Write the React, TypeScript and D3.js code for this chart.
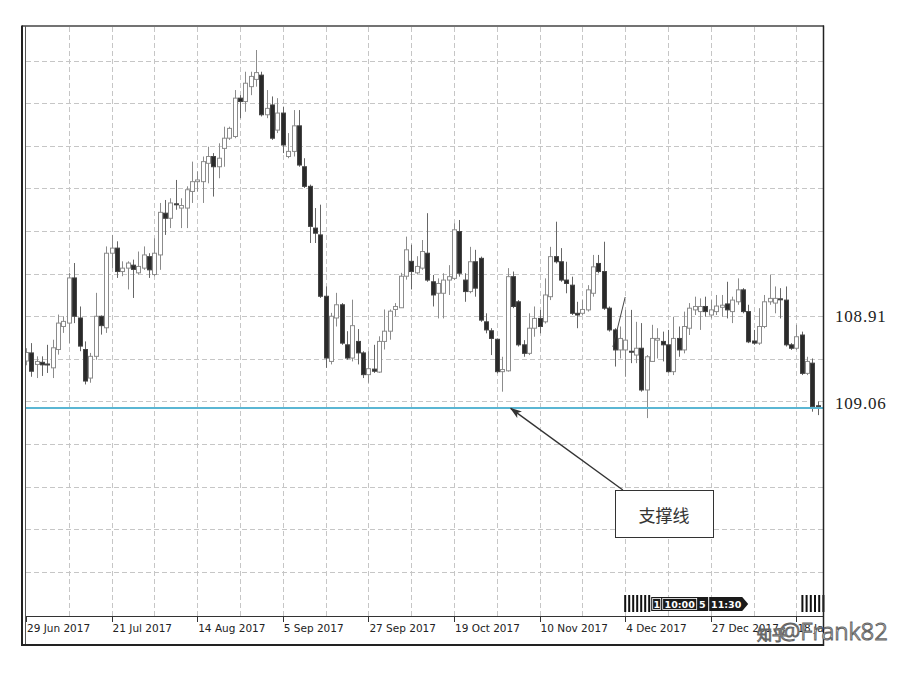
import React from "react";
import * as d3 from "d3";

const W = 905;
const H = 673;

// Candle values (chart level units; each gridline = 10 units)
const openVals = [
  59.5, 61.4, 58.7, 59.2, 58.8, 57.9, 62.2, 67.6, 68.4, 79.0, 69.6, 62.2, 55.5, 60.6, 70.0, 67.3,
  84.8, 86.0, 80.5, 81.3, 82.0, 80.2, 81.3, 84.0, 79.8, 84.4, 94.2, 93.0, 96.4, 95.4, 95.4, 99.3,
  101.6, 101.6, 105.9, 107.5, 105.1, 109.4, 111.8, 112.2, 121.2, 120.4, 123.9, 125.6, 126.6, 117.3, 119.6, 113.7,
  117.7, 107.5, 108.7, 114.7, 105.1, 100.5, 90.7, 89.1, 74.7, 59.4, 69.6, 72.7, 63.3, 60.2, 64.1, 61.4,
  56.3, 57.6, 56.9, 64.1, 66.5, 71.6, 72.0, 79.4, 82.9, 80.2, 81.3, 84.8, 78.1, 75.4, 75.4, 78.5,
  78.9, 89.9, 78.5, 75.8, 82.8, 83.6, 68.7, 66.6, 64.6, 57.0, 57.2, 79.3, 73.4, 63.3, 61.3, 67.2,
  69.5, 68.7, 74.6, 84.0, 82.8, 78.5, 77.3, 70.7, 70.7, 71.5, 75.4, 82.4, 80.5, 71.9, 66.8, 62.1,
  62.1, 61.8, 60.9, 62.5, 52.7, 59.4, 64.4, 64.1, 63.3, 57.0, 64.8, 62.1, 67.2, 71.5, 71.1, 72.3,
  70.3, 71.1, 72.1, 72.9, 71.1, 73.4, 76.2, 71.1, 64.2, 63.7, 67.6, 73.4, 73.1, 74.1, 73.8, 63.3,
  62.5, 65.6, 56.6, 59.0, 49.0,
];
const highVals = [
  62.5, 63.7, 60.6, 60.6, 63.3, 64.5, 70.4, 70.0, 80.2, 82.5, 72.3, 64.1, 61.4, 75.5, 70.2, 86.4,
  89.1, 87.6, 82.9, 82.9, 83.3, 85.2, 86.4, 84.8, 88.3, 96.6, 97.3, 97.7, 102.0, 97.7, 100.5, 106.3,
  104.0, 107.5, 109.8, 108.3, 110.6, 114.5, 114.5, 123.1, 121.9, 127.4, 127.4, 132.5, 127.4, 123.1, 121.6, 121.2,
  119.2, 113.0, 118.4, 118.4, 107.1, 100.9, 95.4, 96.2, 77.0, 70.8, 75.5, 73.1, 66.5, 73.9, 67.0, 61.8,
  61.8, 63.3, 65.3, 71.6, 71.6, 73.1, 80.2, 88.7, 86.8, 84.1, 87.9, 94.2, 79.7, 78.9, 80.1, 82.0,
  91.8, 92.6, 80.1, 86.3, 85.6, 84.0, 70.7, 67.2, 64.8, 60.5, 81.3, 80.5, 73.8, 64.4, 70.7, 72.3,
  71.5, 78.9, 86.3, 92.2, 86.0, 82.8, 79.3, 73.4, 73.8, 77.3, 84.4, 84.4, 87.5, 72.3, 67.2, 67.6,
  71.5, 71.5, 68.7, 68.4, 60.9, 68.0, 67.2, 66.4, 66.8, 69.9, 67.6, 71.1, 73.1, 74.6, 74.2, 74.6,
  73.8, 75.0, 75.0, 78.1, 74.6, 78.9, 76.6, 72.7, 66.8, 71.9, 75.0, 79.7, 77.0, 76.6, 77.0, 63.7,
  68.0, 66.4, 60.5, 60.1, 50.0,
];
const lowVals = [
  58.5, 55.8, 55.5, 56.0, 56.7, 55.5, 61.0, 66.1, 63.7, 68.4, 61.8, 54.0, 54.4, 59.8, 65.7, 66.1,
  81.3, 79.0, 79.4, 76.3, 74.3, 79.8, 80.9, 79.0, 79.4, 80.9, 89.1, 90.7, 95.0, 90.7, 90.7, 96.6,
  99.3, 96.6, 101.2, 98.1, 102.4, 105.1, 111.4, 111.8, 116.5, 118.0, 121.9, 123.9, 116.9, 116.5, 111.4, 113.0,
  108.3, 107.1, 107.5, 105.1, 100.1, 87.2, 87.2, 74.3, 57.9, 58.7, 67.6, 63.3, 59.8, 59.4, 58.7, 55.5,
  54.4, 56.7, 56.7, 62.2, 64.5, 70.0, 72.0, 78.6, 76.3, 79.8, 80.9, 78.1, 72.3, 69.5, 69.5, 75.0,
  78.5, 79.3, 73.4, 75.4, 74.6, 68.7, 66.0, 60.9, 56.6, 52.3, 57.0, 71.9, 62.9, 60.5, 60.9, 65.2,
  66.0, 68.3, 73.8, 82.4, 78.1, 75.4, 70.3, 67.2, 70.3, 71.1, 74.6, 80.1, 71.5, 66.4, 58.2, 60.1,
  55.8, 59.0, 59.0, 52.3, 46.1, 59.4, 60.1, 59.4, 56.8, 56.2, 60.5, 61.3, 65.6, 70.3, 66.8, 69.9,
  69.5, 70.3, 69.9, 69.5, 68.4, 72.7, 70.7, 63.7, 63.3, 63.3, 67.2, 72.7, 70.7, 69.5, 62.9, 62.1,
  62.1, 56.2, 56.2, 47.6, 46.8,
];
const closeVals = [
  61.5, 57.1, 59.4, 58.6, 58.6, 62.6, 68.4, 68.8, 79.0, 70.0, 63.0, 54.8, 60.6, 70.0, 67.8, 84.8,
  86.0, 80.5, 81.3, 82.5, 81.0, 81.7, 84.4, 80.9, 84.8, 94.4, 93.0, 96.6, 96.3, 96.0, 99.7, 101.6,
  102.0, 106.3, 107.5, 105.1, 107.1, 111.8, 114.1, 121.2, 120.4, 124.7, 126.3, 127.2, 117.3, 118.8, 111.8, 117.7,
  110.2, 108.7, 114.7, 105.5, 100.5, 91.1, 89.5, 74.7, 60.2, 70.0, 72.7, 63.7, 60.2, 67.8, 61.4, 56.3,
  57.7, 57.1, 64.1, 66.5, 71.2, 72.3, 79.4, 85.6, 80.5, 81.7, 85.2, 78.5, 75.0, 77.7, 78.5, 79.3,
  90.3, 80.1, 75.8, 82.8, 76.6, 69.1, 66.8, 64.8, 57.0, 57.5, 79.3, 72.3, 63.3, 61.3, 67.2, 69.5,
  67.6, 75.0, 84.0, 82.8, 78.5, 77.7, 70.7, 70.3, 71.6, 76.2, 81.6, 80.5, 71.9, 66.8, 62.1, 64.8,
  64.4, 61.6, 62.5, 52.7, 60.5, 64.8, 64.8, 63.3, 57.0, 64.8, 62.1, 67.6, 71.9, 72.3, 72.3, 71.1,
  71.5, 72.4, 72.6, 71.5, 73.8, 76.2, 71.1, 64.0, 63.7, 67.6, 73.4, 74.2, 74.2, 74.0, 63.3, 62.5,
  65.2, 56.6, 59.4, 48.8, 48.8,
];

const dateLabels = [
  "29 Jun 2017", "21 Jul 2017", "14 Aug 2017", "5 Sep 2017", "27 Sep 2017",
  "19 Oct 2017", "10 Nov 2017", "4 Dec 2017", "27 Dec 2017", "18 Jan 2018",
];
const dateLabelBars = [0, 16, 32, 48, 64, 80, 96, 112, 128, 144];
const verticalGridBars = [8, 16, 24, 32, 40, 48, 56, 64, 72, 80, 88, 96, 104, 112, 120, 128, 136, 144];
const horizontalGridLevels = [10, 20, 30, 40, 50, 60, 70, 80, 90, 100, 110, 120, 130];
const priceLabels = ["108.91", "109.06"];
const priceLabelLevels = [70.0, 49.6];
const supportLevel = 48.5;
const supportNote = "支撑线";
const trendBars = [109.7, 112.0];
const trendLevels = [62.8, 74.5];
const markerTexts = ["1", "10:00", "5", "11:30"];
const watermark = "@Frank82";

export default function App() {
  const left = 26, right = 823, top = 27, bottom = 616;
  const x = d3.scaleLinear().domain([0, 149]).range([left, 823.15]);
  const y = d3.scaleLinear().domain([-0.35, 137.9]).range([bottom, top]);
  const candles = d3.range(openVals.length).map((i) => ({
    i, o: openVals[i], h: highVals[i], l: lowVals[i], c: closeVals[i],
  }));
  const bodyW = 4;
  const gridColor = "#c6c6c6";
  const crisp = (v: number) => Math.round(v) + 0.5;
  const arrowStart = { x: x(111) + 3, y: 490 };
  const arrowEnd = { x: x(90.6), y: y(supportLevel) + 0.5 };
  const mkX = x(112) - 1;
  const rightMkX = x(144) + 5;

  return (
    <svg width={W} height={H} style={{ position: "absolute", left: 0, top: 0, background: "#fff" }}>
      <defs>
        <clipPath id="plot">
          <rect x={left} y={top} width={right - left} height={bottom - top} />
        </clipPath>
        <clipPath id="axisclip">
          <rect x={left} y={bottom} width={right - left} height={30} />
        </clipPath>
        <marker id="ah" viewBox="0 0 12 8" refX="11" refY="4" markerWidth="12" markerHeight="8" markerUnits="userSpaceOnUse" orient="auto">
          <path d="M0,0 L12,4 L0,8 L3,4 Z" fill="#333" />
        </marker>
      </defs>
      <rect x={0} y={0} width={W} height={H} fill="#fff" />

      {/* grid */}
      <g stroke={gridColor} strokeWidth={1} strokeDasharray="5,3">
        {horizontalGridLevels.map((v) => (
          <line key={"h" + v} x1={left} x2={right} y1={crisp(y(v))} y2={crisp(y(v))} />
        ))}
        {verticalGridBars.map((b) => (
          <line key={"v" + b} x1={crisp(x(b))} x2={crisp(x(b))} y1={top} y2={bottom} />
        ))}
      </g>

      {/* candles */}
      <g clipPath="url(#plot)">
        {candles.map((d) => {
          const cx = Math.round(x(d.i));
          const up = d.c >= d.o;
          const yTop = y(Math.max(d.o, d.c));
          const yBot = y(Math.min(d.o, d.c));
          const hgt = Math.max(1, yBot - yTop);
          return (
            <g key={d.i}>
              <line x1={cx + 0.5} x2={cx + 0.5} y1={y(d.h)} y2={y(d.l)} stroke={up ? "#8c8c8c" : "#666"} strokeWidth={1} />
              <rect
                x={cx - bodyW / 2 + 0.5}
                y={yTop}
                width={bodyW}
                height={hgt}
                fill={up ? "#fff" : "#2a2a2a"}
                stroke={up ? "#8c8c8c" : "#444"}
                strokeWidth={1}
              />
            </g>
          );
        })}
        <line x1={x(trendBars[0])} y1={y(trendLevels[0])} x2={x(trendBars[1])} y2={y(trendLevels[1])} stroke="#444" strokeWidth={1} />
      </g>

      {/* support line */}
      <line x1={left} x2={right} y1={y(supportLevel)} y2={y(supportLevel)} stroke="#5ab6d3" strokeWidth={2} />

      {/* annotation */}
      <line x1={arrowStart.x} y1={arrowStart.y} x2={arrowEnd.x} y2={arrowEnd.y} stroke="#333" strokeWidth={1.4} markerEnd="url(#ah)" />
      <rect x={615.5} y={490.5} width={98} height={47} fill="#fff" stroke="#333" strokeWidth={1} />
      <text x={664} y={514} textAnchor="middle" dominantBaseline="central" fontFamily="'Noto Sans CJK SC', sans-serif" fontSize={17} fill="#333">
        {supportNote}
      </text>

      {/* event markers */}
      <g>
        {d3.range(7).map((k) => (
          <rect key={"ma" + k} x={mkX + k * 4} y={595} width={2} height={17} fill="#111" />
        ))}
        <rect x={mkX + 27} y={597} width={57} height={14} fill="#1a1a1a" />
        <rect x={mkX + 28.5} y={598.5} width={8} height={11} fill="none" stroke="#fff" strokeWidth={0.8} />
        <rect x={mkX + 38.5} y={598.5} width={34} height={11} fill="none" stroke="#fff" strokeWidth={0.8} />
        <text x={mkX + 32.5} y={607.5} textAnchor="middle" fontFamily="'DejaVu Sans', sans-serif" fontSize={9.5} fill="#fff" fontWeight="bold">{markerTexts[0]}</text>
        <text x={mkX + 55.5} y={607.5} textAnchor="middle" fontFamily="'DejaVu Sans', sans-serif" fontSize={9.5} fill="#fff" fontWeight="bold">{markerTexts[1]}</text>
        <text x={mkX + 78} y={607.5} textAnchor="middle" fontFamily="'DejaVu Sans', sans-serif" fontSize={9.5} fill="#fff" fontWeight="bold">{markerTexts[2]}</text>
        <path d={`M${mkX + 85},597 H${mkX + 118} L${mkX + 124},604 L${mkX + 118},611 H${mkX + 85} Z`} fill="#1a1a1a" />
        <text x={mkX + 102} y={607.5} textAnchor="middle" fontFamily="'DejaVu Sans', sans-serif" fontSize={9.5} fill="#fff" fontWeight="bold">{markerTexts[3]}</text>
        {d3.range(6).map((k) => (
          <rect key={"mb" + k} x={rightMkX + k * 4.2} y={595} width={2} height={17} fill="#111" />
        ))}
      </g>

      {/* x axis */}
      <line x1={left} x2={right} y1={bottom + 0.5} y2={bottom + 0.5} stroke="#333" strokeWidth={1.2} />
      <g clipPath="url(#axisclip)">
        {dateLabelBars.map((b, k) => (
          <g key={"t" + b}>
            <line x1={crisp(x(b))} x2={crisp(x(b))} y1={bottom} y2={bottom + 6} stroke="#333" strokeWidth={1} />
            <text x={x(b) + 1} y={632} fontFamily="'DejaVu Sans', sans-serif" fontSize={10.5} fill="#222">
              {dateLabels[k]}
            </text>
          </g>
        ))}
      </g>

      {/* frame */}
      <line x1={22} x2={right + 1} y1={26} y2={26} stroke="#444" strokeWidth={1.5} />
      <line x1={22} x2={22} y1={25.5} y2={646} stroke="#222" strokeWidth={2} />
      <line x1={25.5} x2={25.5} y1={26} y2={645} stroke="#555" strokeWidth={1} />
      <line x1={right + 0.5} x2={right + 0.5} y1={25.5} y2={646} stroke="#222" strokeWidth={1.5} />
      <line x1={22} x2={right + 1} y1={645} y2={645} stroke="#222" strokeWidth={2} />

      {/* price labels */}
      {priceLabels.map((t, k) => (
        <text key={t} x={835} y={y(priceLabelLevels[k])} dy="0.35em" fontFamily="'Liberation Serif', serif" fontSize={17} letterSpacing={0.8} fill="#222">
          {t}
        </text>
      ))}

      {/* watermark */}
      <g fontFamily="'Noto Sans', sans-serif" fill="#fff" stroke="#666" strokeWidth={1}>
        <text x={757} y={640} fontFamily="'Noto Sans CJK SC', sans-serif" fontSize={15}>知乎</text>
        <text x={779} y={640} fontSize={24} fontWeight={300}>{watermark}</text>
      </g>
    </svg>
  );
}
